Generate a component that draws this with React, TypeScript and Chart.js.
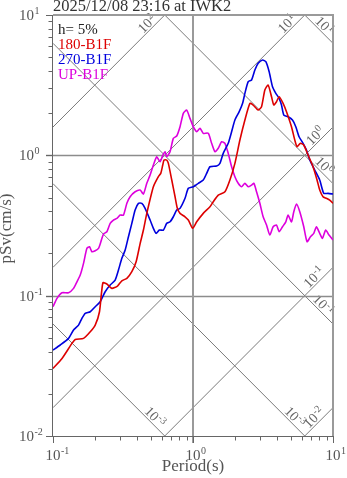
import React, { useEffect, useRef } from "react";
import { Chart, registerables } from "chart.js";

Chart.register(...registerables);

const W = 347;
const H = 478;
const FONT = '"Liberation Serif", "Times New Roman", serif';

const chartTitle = "2025/12/08 23:16 at IWK2";
const dampingText = "h= 5%";
const xAxisTitle = "Period(s)";
const yAxisTitle = "pSv(cm/s)";

const periodRange = [0.1, 10];
const svRange = [0.01, 10];
const xTickExponents = [-1, 0, 1];
const yTickExponents = [-2, -1, 0, 1];
// tripartite guide lines: constant pseudo-acceleration (cm/s^2) and displacement (cm)
const accelLevels = [0.01, 0.1, 1, 10, 100];
const accelLabels = ["-2", "-1", "0", "1", "2"];
const dispLevels = [0.001, 0.01, 0.1, 1, 10];
const dispLabels = ["-3", "-3", "-1", "0", "1"];

const seriesNames = ["180-B1F", "270-B1F", "UP-B1F"];
const seriesColors = ["#dd0000", "#0000dd", "#dd00dd"];

const redPeriod = [0.1, 0.116, 0.1366, 0.1442, 0.1652, 0.1845, 0.2002, 0.2148, 0.2272, 0.2426, 0.2633, 0.2887, 0.3103, 0.337, 0.3657, 0.3924, 0.4191, 0.4424, 0.4677, 0.5212, 0.5658, 0.5886, 0.6081, 0.6213, 0.6494, 0.6668, 0.7052, 0.7444, 0.773, 0.8079, 0.877, 0.9259, 0.995, 1.063, 1.184, 1.322, 1.395, 1.515, 1.691, 1.835, 1.992, 2.163, 2.348, 2.549, 2.691, 2.92, 3.087, 3.26, 3.441, 3.638, 3.778, 3.95, 4.122, 4.401, 4.654, 5.052, 5.333, 5.538, 5.856, 6.182, 6.634, 7.204, 7.691, 8.039, 8.485, 8.974, 9.474, 10];
const redSv = [0.0303, 0.0357, 0.0457, 0.0488, 0.0496, 0.0553, 0.0617, 0.0768, 0.1236, 0.121, 0.1127, 0.117, 0.1277, 0.1328, 0.1481, 0.1744, 0.235, 0.2935, 0.386, 0.597, 0.704, 0.744, 0.853, 0.926, 0.926, 0.877, 0.667, 0.507, 0.419, 0.386, 0.365, 0.346, 0.302, 0.336, 0.386, 0.43, 0.467, 0.521, 0.55, 0.667, 0.877, 1.285, 1.785, 2.348, 2.283, 2.103, 2.221, 2.92, 3.17, 2.617, 2.283, 2.41, 2.617, 2.348, 2.046, 1.599, 1.285, 1.152, 1.218, 1.184, 1.005, 0.829, 0.667, 0.566, 0.507, 0.494, 0.48, 0.455];

const bluePeriod = [0.1, 0.1127, 0.1292, 0.1402, 0.1522, 0.1609, 0.1699, 0.1845, 0.2002, 0.2173, 0.2359, 0.2561, 0.278, 0.2935, 0.3103, 0.3277, 0.3459, 0.3657, 0.386, 0.4076, 0.431, 0.4549, 0.4938, 0.5212, 0.5448, 0.5752, 0.6142, 0.6494, 0.6856, 0.7236, 0.765, 0.8079, 0.877, 0.9259, 1.005, 1.091, 1.184, 1.252, 1.322, 1.475, 1.557, 1.644, 1.785, 1.887, 1.992, 2.138, 2.261, 2.348, 2.48, 2.62, 2.767, 2.92, 3.139, 3.314, 3.499, 3.698, 3.905, 4.122, 4.287, 4.452, 4.778, 5.135, 5.422, 5.724, 6.111, 6.462, 6.823, 7.406, 8.039, 8.584, 9.213, 10];
const blueSv = [0.041, 0.0445, 0.0496, 0.0569, 0.0617, 0.0689, 0.0748, 0.0768, 0.0834, 0.0905, 0.1066, 0.119, 0.1292, 0.1523, 0.1845, 0.2113, 0.263, 0.3275, 0.4075, 0.455, 0.455, 0.419, 0.346, 0.302, 0.278, 0.2935, 0.2935, 0.3275, 0.336, 0.365, 0.4075, 0.419, 0.494, 0.582, 0.597, 0.632, 0.667, 0.744, 0.829, 0.839, 0.877, 1.033, 1.218, 1.473, 1.785, 2.046, 2.348, 2.766, 3.346, 3.441, 4.055, 4.525, 4.778, 4.646, 3.944, 3.083, 2.766, 2.549, 2.283, 1.937, 1.884, 1.785, 1.599, 1.357, 1.218, 1.091, 0.926, 0.786, 0.667, 0.536, 0.536, 0.53];

const magentaPeriod = [0.1, 0.1068, 0.1159, 0.1292, 0.1402, 0.1483, 0.1565, 0.1652, 0.1747, 0.1824, 0.1897, 0.2002, 0.2113, 0.2198, 0.2294, 0.2426, 0.2561, 0.2703, 0.2859, 0.3018, 0.3186, 0.337, 0.3556, 0.386, 0.4191, 0.4424, 0.4677, 0.4938, 0.5212, 0.5511, 0.5818, 0.6081, 0.6316, 0.6494, 0.6856, 0.7236, 0.765, 0.8079, 0.853, 0.9018, 0.9519, 1.005, 1.063, 1.122, 1.184, 1.285, 1.359, 1.435, 1.515, 1.602, 1.691, 1.785, 1.887, 1.992, 2.103, 2.224, 2.348, 2.48, 2.62, 2.722, 2.844, 3.003, 3.17, 3.352, 3.54, 3.736, 3.95, 4.122, 4.358, 4.602, 4.778, 5.052, 5.248, 5.483, 5.79, 6.182, 6.527, 6.902, 7.286, 7.616, 8.039, 8.404, 8.872, 9.365, 10];
const magentaSv = [0.0834, 0.0957, 0.1049, 0.1049, 0.1127, 0.1256, 0.1402, 0.1699, 0.2174, 0.2231, 0.2056, 0.2089, 0.2174, 0.2422, 0.2748, 0.2854, 0.3275, 0.346, 0.3556, 0.3754, 0.3754, 0.455, 0.507, 0.55, 0.566, 0.53, 0.632, 0.724, 0.853, 0.977, 0.9, 1.0, 1.061, 0.977, 1.061, 1.322, 1.373, 1.6, 1.992, 2.103, 1.835, 1.599, 1.473, 1.557, 1.435, 1.435, 1.218, 1.061, 1.122, 1.25, 1.218, 1.033, 0.829, 0.704, 0.632, 0.597, 0.632, 0.597, 0.614, 0.632, 0.55, 0.455, 0.365, 0.3186, 0.2703, 0.3098, 0.3186, 0.2854, 0.3098, 0.336, 0.3754, 0.336, 0.3963, 0.4496, 0.3963, 0.3098, 0.2422, 0.263, 0.278, 0.3098, 0.278, 0.2562, 0.2935, 0.2703, 0.249];

const seriesPeriods = [redPeriod, bluePeriod, magentaPeriod];
const seriesValues = [redSv, blueSv, magentaSv];

function drawSup(ctx: CanvasRenderingContext2D, base: string, exp: string, baseSize: number, expSize: number, rise: number, align: string, x: number, y: number) {
  ctx.font = `${baseSize}px ${FONT}`;
  const wb = ctx.measureText(base).width;
  ctx.font = `${expSize}px ${FONT}`;
  const we = ctx.measureText(exp).width;
  let x0 = x;
  if (align === "right") x0 = x - wb - we - 0.5;
  else if (align === "baseCenter") x0 = x - wb / 2;
  else if (align === "baseRight") x0 = x - wb;
  ctx.textAlign = "left";
  ctx.textBaseline = "alphabetic";
  ctx.font = `${baseSize}px ${FONT}`;
  ctx.fillText(base, x0, y);
  ctx.font = `${expSize}px ${FONT}`;
  ctx.fillText(exp, x0 + wb + 0.5, y - rise);
}

function clipSeg(p1: any, p2: any, a: any) {
  let t0 = 0, t1 = 1;
  const dx = p2.x - p1.x, dy = p2.y - p1.y;
  const p = [-dx, dx, -dy, dy];
  const q = [p1.x - a.left, a.right - p1.x, p1.y - a.top, a.bottom - p1.y];
  for (let i = 0; i < 4; i++) {
    if (p[i] === 0) {
      if (q[i] < 0) return null;
      continue;
    }
    const r = q[i] / p[i];
    if (p[i] < 0) {
      if (r > t1) return null;
      if (r > t0) t0 = r;
    } else {
      if (r < t0) return null;
      if (r < t1) t1 = r;
    }
  }
  return [t0, t1];
}

const tripartitePlugin = {
  id: "tripartite",
  beforeDatasetsDraw(chart: any) {
    const { ctx, chartArea: a, scales } = chart;
    const xs = scales.x, ys = scales.y;
    const twoPi = 2 * Math.PI;
    const lines: any[] = [];
    accelLevels.forEach((acc, i) => {
      lines.push({
        p1: { x: xs.getPixelForValue(periodRange[0]), y: ys.getPixelForValue((acc * periodRange[0]) / twoPi) },
        p2: { x: xs.getPixelForValue(periodRange[1]), y: ys.getPixelForValue((acc * periodRange[1]) / twoPi) },
        label: accelLabels[i],
      });
    });
    dispLevels.forEach((d, i) => {
      lines.push({
        p1: { x: xs.getPixelForValue(periodRange[0]), y: ys.getPixelForValue((twoPi * d) / periodRange[0]) },
        p2: { x: xs.getPixelForValue(periodRange[1]), y: ys.getPixelForValue((twoPi * d) / periodRange[1]) },
        label: dispLabels[i],
      });
    });

    ctx.save();
    // diagonal guide lines
    ctx.strokeStyle = "#7a7a7a";
    ctx.lineWidth = 1;
    lines.forEach((l) => {
      const c = clipSeg(l.p1, l.p2, a);
      if (!c) return;
      const dx = l.p2.x - l.p1.x, dy = l.p2.y - l.p1.y;
      ctx.beginPath();
      ctx.moveTo(l.p1.x + c[0] * dx, l.p1.y + c[0] * dy);
      ctx.lineTo(l.p1.x + c[1] * dx, l.p1.y + c[1] * dy);
      ctx.stroke();
      const len = Math.hypot(dx, dy);
      const ux = dx / len, uy = dy / len;
      const ex = l.p1.x + c[1] * dx, ey = l.p1.y + c[1] * dy;
      ctx.save();
      ctx.translate(ex - ux * 9, ey - uy * 9);
      ctx.rotate(Math.atan2(uy, ux));
      ctx.fillStyle = "#666";
      drawSup(ctx, "10", l.label, 14, 10, 5, "right", 0, -2);
      ctx.restore();
    });

    // decade grid lines
    ctx.strokeStyle = "#8c8c8c";
    ctx.lineWidth = 1.3;
    yTickExponents.forEach((e) => {
      const v = Math.pow(10, e);
      if (v <= svRange[0] || v >= svRange[1]) return;
      const y = Math.round(ys.getPixelForValue(v)) + 0.5;
      ctx.beginPath();
      ctx.moveTo(a.left - 7, y);
      ctx.lineTo(a.right, y);
      ctx.stroke();
    });
    ctx.strokeStyle = "#9a9a9a";
    ctx.lineWidth = 2;
    xTickExponents.forEach((e) => {
      const v = Math.pow(10, e);
      if (v <= periodRange[0] || v >= periodRange[1]) return;
      const x = Math.round(xs.getPixelForValue(v));
      ctx.beginPath();
      ctx.moveTo(x, a.top);
      ctx.lineTo(x, a.bottom + 7);
      ctx.stroke();
    });

    // frame
    ctx.strokeStyle = "#9a9a9a";
    ctx.lineWidth = 2;
    ctx.beginPath();
    ctx.moveTo(a.left, a.top);
    ctx.lineTo(a.right, a.top);
    ctx.lineTo(a.right, a.bottom);
    ctx.stroke();
    ctx.strokeStyle = "#666";
    ctx.lineWidth = 1;
    ctx.beginPath();
    ctx.moveTo(a.left - 0.5, a.top);
    ctx.lineTo(a.left - 0.5, a.bottom + 0.5);
    ctx.lineTo(a.right, a.bottom + 0.5);
    ctx.stroke();

    // ticks
    ctx.beginPath();
    for (let e = xTickExponents[0]; e <= xTickExponents[xTickExponents.length - 1]; e++) {
      for (let m = 1; m <= 9; m++) {
        const v = m * Math.pow(10, e);
        if (v > periodRange[1] * 1.0001) break;
        const x = Math.round(xs.getPixelForValue(v)) + 0.5;
        ctx.moveTo(x, a.bottom);
        ctx.lineTo(x, a.bottom + (m === 1 ? 7 : 4.5));
      }
    }
    for (let e = yTickExponents[0]; e <= yTickExponents[yTickExponents.length - 1]; e++) {
      for (let m = 1; m <= 9; m++) {
        const v = m * Math.pow(10, e);
        if (v > svRange[1] * 1.0001) break;
        const y = Math.round(ys.getPixelForValue(v)) + 0.5;
        ctx.moveTo(a.left, y);
        ctx.lineTo(a.left - (m === 1 ? 7 : 4.5), y);
      }
    }
    ctx.stroke();

    // tick labels
    ctx.fillStyle = "#555";
    xTickExponents.forEach((e) => {
      const x = xs.getPixelForValue(Math.pow(10, e));
      drawSup(ctx, "10", String(e), 15, 10, 6, "baseCenter", x, a.bottom + 24);
    });
    yTickExponents.forEach((e) => {
      const y = ys.getPixelForValue(Math.pow(10, e));
      drawSup(ctx, "10", String(e), 15, 10, 6, "baseRight", 34, y + 5);
    });
    ctx.restore();
  },
  afterDatasetsDraw(chart: any) {
    const { ctx, chartArea: a } = chart;
    ctx.save();
    ctx.textAlign = "left";
    ctx.textBaseline = "alphabetic";
    ctx.font = `16.5px ${FONT}`;
    ctx.fillStyle = "#333";
    ctx.fillText(chartTitle, a.left, 11);

    ctx.font = `15px ${FONT}`;
    ctx.fillStyle = "#222";
    ctx.fillText(dampingText, a.left + 5, 34);
    chart.data.datasets.forEach((ds: any, i: number) => {
      ctx.fillStyle = ds.borderColor;
      ctx.fillText(ds.label, a.left + 5, 49 + i * 15);
    });

    ctx.fillStyle = "#555";
    ctx.font = `17px ${FONT}`;
    ctx.textAlign = "center";
    ctx.fillText(xAxisTitle, (a.left + a.right) / 2, 471);
    ctx.save();
    ctx.translate(11, (a.top + a.bottom) / 2 + 3);
    ctx.rotate(-Math.PI / 2);
    ctx.fillText(yAxisTitle, 0, 0);
    ctx.restore();
    ctx.restore();
  },
};

export default function App() {
  const canvasRef = useRef<HTMLCanvasElement | null>(null);

  useEffect(() => {
    document.body.style.margin = "0";
    const canvas = canvasRef.current;
    if (!canvas) return;
    const chart = new Chart(canvas, {
      type: "scatter",
      data: {
        datasets: seriesNames.map((name, i) => ({
          label: name,
          data: seriesPeriods[i].map((t, j) => ({ x: t, y: seriesValues[i][j] })),
          showLine: true,
          borderColor: seriesColors[i],
          backgroundColor: seriesColors[i],
          borderWidth: 1.6,
          pointRadius: 0,
          tension: 0.2,
        })),
      },
      options: {
        responsive: false,
        animation: false,
        events: [],
        layout: { padding: { left: 53, top: 15, right: 14, bottom: 42 } },
        plugins: {
          legend: { display: false },
          tooltip: { enabled: false },
          title: { display: false },
        },
        scales: {
          x: { type: "logarithmic", min: periodRange[0], max: periodRange[1], display: false },
          y: { type: "logarithmic", min: svRange[0], max: svRange[1], display: false },
        },
      },
      plugins: [tripartitePlugin],
    });
    return () => chart.destroy();
  }, []);

  return (
    <div style={{ width: W, height: H, background: "#fff" }}>
      <canvas ref={canvasRef} width={W} height={H} style={{ display: "block", width: W, height: H }} />
    </div>
  );
}
